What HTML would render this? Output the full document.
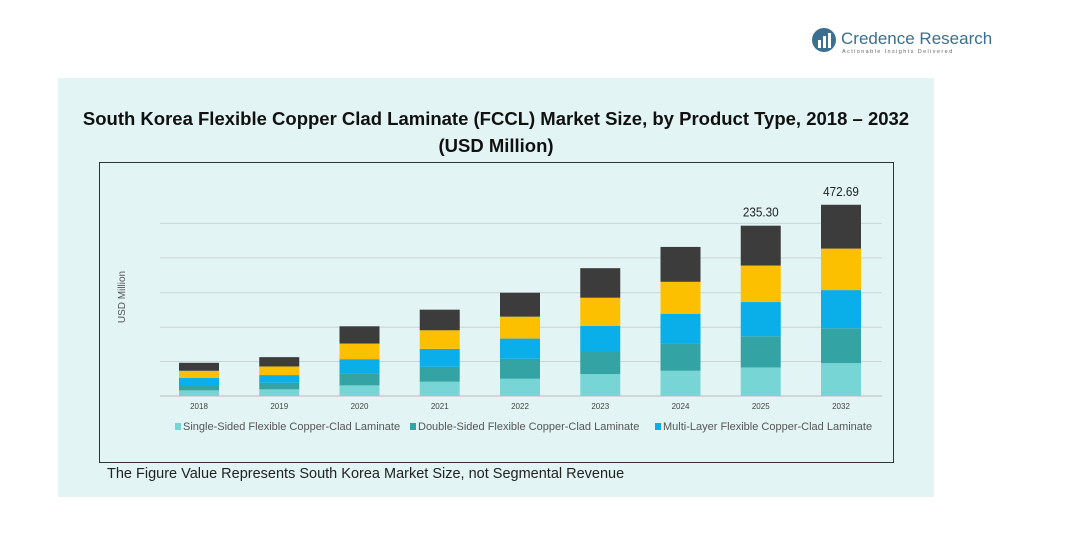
<!DOCTYPE html>
<html><head><meta charset="utf-8"><style>
body{margin:0;width:1092px;height:552px;background:#fff;font-family:"Liberation Sans",sans-serif;position:relative;overflow:hidden}
.panel{position:absolute;left:58px;top:78px;width:876px;height:419px;background:#e2f4f4}
.title{position:absolute;left:40px;width:912px;text-align:center;font-weight:bold;font-size:18.5px;color:#111}
.box{position:absolute;left:99px;top:162px;width:793px;height:299px;border:1px solid #333}
.foot{position:absolute;left:107px;top:466px;font-size:14.5px;color:#222}
.logo{position:absolute;left:810px;top:27px}
</style></head><body>
<div class="panel"></div>
<div class="title" style="top:108px">South Korea Flexible Copper Clad Laminate (FCCL) Market Size, by Product Type, 2018 – 2032</div>
<div class="title" style="top:135px">(USD Million)</div>
<div class="box"></div>
<div class="foot">The Figure Value Represents South Korea Market Size, not Segmental Revenue</div>
<div class="logo">
<svg width="200" height="30"><circle cx="14" cy="13" r="12" fill="#3b6f8f"/><rect x="8" y="13" width="3" height="8" fill="#fff"/><rect x="13" y="9" width="3" height="12" fill="#fff"/><rect x="18" y="6" width="3" height="15" fill="#fff"/>
<text x="31" y="17" font-size="17" fill="#3b6f8f" font-family="Liberation Sans">Credence Research</text>
<text x="32" y="26" font-size="5.5" fill="#666" letter-spacing="1.4" font-family="Liberation Sans">Actionable Insights Delivered</text></svg></div>
<svg id="chart" width="1092" height="552" style="position:absolute;left:0;top:0"></svg>
<script>
const years=["2018","2019","2020","2021","2022","2023","2024","2025","2032"];
const single=[17,20,32,43,52,66,76,86,99];
const dbl=[16,20,36,45,60,68,81,94,105];
const multi=[22,23,43,54,61,77,90,103,115];
const other=[21,26,47,56,66,85,97,110,125];
const top5=[24,28,52,62,72,89,105,120,132];
const valueLabels=["","","","","","","","235.30","472.69"];
const gridTicks=[104,207,311,416,520];
const seriesNames=["Single-Sided Flexible Copper-Clad Laminate","Double-Sided Flexible Copper-Clad Laminate","Multi-Layer Flexible Copper-Clad Laminate"];
const colors=["#78d5d5","#34a3a3","#0aaee8","#fdc000","#3c3c3c"];
const NS="http://www.w3.org/2000/svg";const svg=document.getElementById('chart');
const base=396,k=0.332,x0=199,dx=80.25,bw=40;
const y=v=>base-v*k;const xc=i=>x0+i*dx;
function mk(t,a){const e=document.createElementNS(NS,t);for(const n in a)e.setAttribute(n,a[n]);svg.appendChild(e);return e;}
gridTicks.forEach(g=>{const l=mk('line',{x1:160,x2:882,y1:y(g),y2:y(g),stroke:'#c8d6d6','stroke-width':1});

});
const bl=mk('line',{x1:160,x2:882,y1:base,y2:base,stroke:'#bbb'});


const series=[single,dbl,multi,other,top5];
years.forEach((yr,i)=>{let acc=0;series.forEach((s,j)=>{const r=mk('rect',{x:xc(i)-bw/2,y:y(acc+s[i]),width:bw,height:s[i]*k,fill:colors[j]});


acc+=s[i];});
const t=mk('text',{x:xc(i),y:409,'font-size':8,'text-anchor':'middle',fill:'#444'});t.textContent=yr;


if(valueLabels[i]){const v=mk('text',{x:xc(i),y:y(acc)-9,'font-size':13,'text-anchor':'middle',fill:'#222',transform:'translate('+xc(i)+',0) scale(0.9,1) translate('+(-xc(i))+',0)'});v.textContent=valueLabels[i];

}
});
const yl=mk('text',{x:125,y:297,'font-size':10,'text-anchor':'middle',fill:'#555',transform:'rotate(-90 125 297)'});yl.textContent='USD Million';


const lx=[175,410,655];
seriesNames.forEach((n,i)=>{const s=mk('rect',{x:lx[i],y:423,width:6,height:7,fill:colors[i]});


const t=mk('text',{x:lx[i]+8,y:430,'font-size':11,fill:'#555'});t.textContent=n;

});
</script>
</body></html>
